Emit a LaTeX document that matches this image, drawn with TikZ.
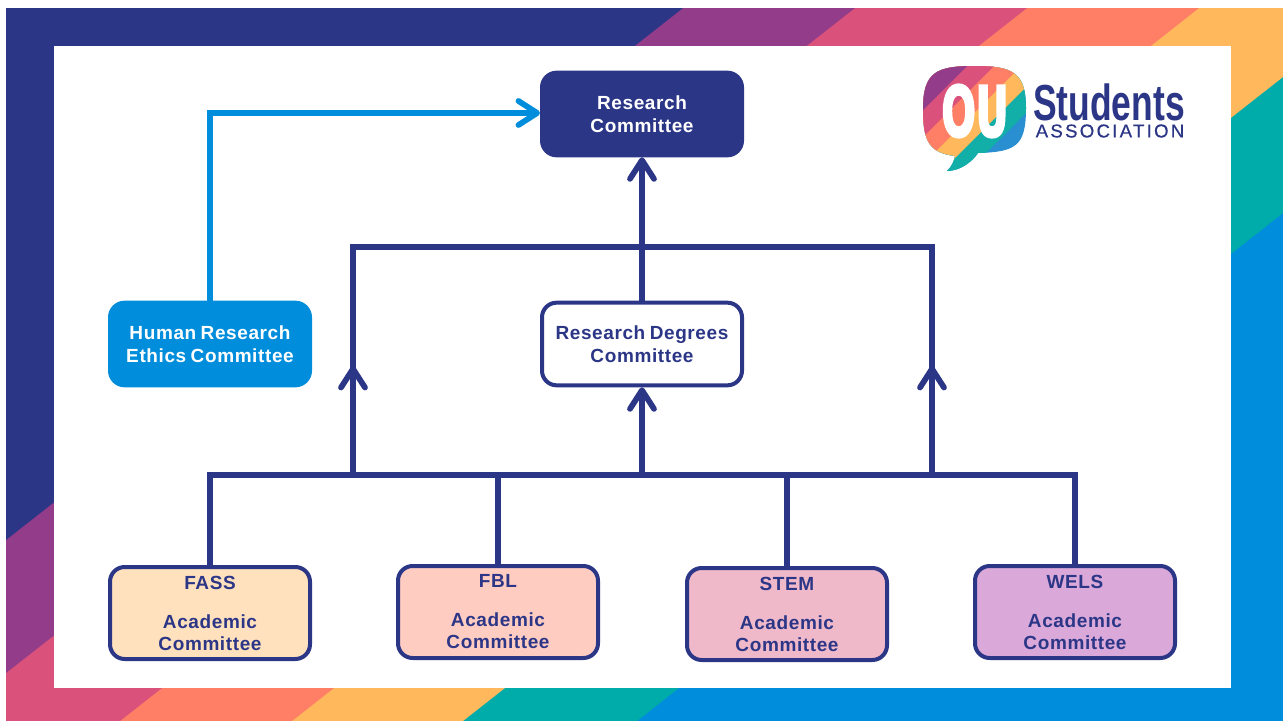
\documentclass[tikz,border=0pt]{standalone}
\usepackage{fontspec}
\setmainfont[LetterSpace=3.2,WordSpace=0.75]{Liberation Sans}
\newfontfamily\logofont[FakeBold=4]{DejaVu Sans}
\newfontfamily\logoname{Liberation Sans}
\newfontfamily\logowide[LetterSpace=12,FakeBold=0.6]{Liberation Sans}
\usetikzlibrary{arrows.meta}
\definecolor{navy}{HTML}{2C3687}
\definecolor{plum}{HTML}{933D8A}
\definecolor{rose}{HTML}{DA527B}
\definecolor{coral}{HTML}{FF7F66}
\definecolor{amber}{HTML}{FFB85C}
\definecolor{teal}{HTML}{00ACA9}
\definecolor{sky}{HTML}{008DDB}
\definecolor{logoteal}{HTML}{11AFA8}
\definecolor{logosky}{HTML}{2A8FD0}
\definecolor{fassfill}{HTML}{FFE1BD}
\definecolor{fblfill}{HTML}{FFCCC2}
\definecolor{stemfill}{HTML}{F0B9CA}
\definecolor{welsfill}{HTML}{DAA9D9}
\tikzset{
  boardbox/.style={draw=navy, line width=3pt, rounded corners=11pt, minimum width=150pt, minimum height=62pt, align=center, inner sep=0pt, text=navy, font=\fontsize{14.25}{17.25}\selectfont\bfseries},
  filledbox/.style={boardbox, draw=#1, fill=#1, text=white},
  facultybox/.style={boardbox, fill=#1, minimum height=69pt, font=\fontsize{14.25}{16.5}\selectfont\bfseries},
  link/.style={draw=navy, line width=4.3pt, line join=miter},
  ethicslink/.style={draw=sky, line width=4.3pt, line join=miter},
  barb/.style={-{Straight Barb[length=14pt,width=18pt,round]}}
}
\begin{document}
\begin{tikzpicture}[x=0.75pt,y=-0.75pt]
\useasboundingbox (0,0) rectangle (1283,721);
\fill[sky] (6,8) rectangle (1283,721);
\fill[teal] (6,8)--(1283,8)--(1283,213)--(637,721)--(6,721)--cycle;
\fill[amber] (6,8)--(1283,8)--(1283,77)--(463,721)--(6,721)--cycle;
\fill[coral] (6,8)--(1199,8)--(292,721)--(6,721)--cycle;
\fill[rose] (6,8)--(1027,8)--(120,721)--(6,721)--cycle;
\fill[plum] (6,8)--(855,8)--(6,673)--cycle;
\fill[navy] (6,8)--(683,8)--(6,540)--cycle;
\fill[white] (54,46) rectangle (1231,688);
\begin{scope}
\clip (975,66) .. controls (1012,66) and (1026,72) .. (1026,108) .. controls (1026,146) and (1016,152) .. (978,153) .. controls (972,162) and (960,171) .. (947,171) .. controls (952,166) and (954,161) .. (955,156) .. controls (930,153) and (923,142) .. (923,110) .. controls (923,72) and (936,66) .. (975,66) -- cycle;
\fill[logosky] (900,50) rectangle (1040,180);
\fill[logoteal] (900,50)--(1089,50)--(900,239)--cycle;
\fill[amber] (900,50)--(1063,50)--(900,213)--cycle;
\fill[coral] (900,50)--(1037,50)--(900,187)--cycle;
\fill[rose] (900,50)--(1010,50)--(900,160)--cycle;
\fill[plum] (900,50)--(983,50)--(900,133)--cycle;
\end{scope}
\node[text=white, inner sep=0pt, font=\logofont\fontsize{52}{52}\selectfont\bfseries] (logoou) at (975,111) {\scalebox{.58}[1]{OU}};
\node[text=navy, inner sep=0pt, font=\logoname\fontsize{38}{38}\selectfont\bfseries] (logotext) at (1109,102) {\scalebox{.7}[1]{Students}};
\node[text=navy, inner sep=0pt, font=\logowide\fontsize{14}{14}\selectfont] (logosub) at (1110,131) {ASSOCIATION};
\node[filledbox=navy] (rc) at (642,114) {Research\\Committee};
\node[filledbox=sky] (hrec) at (210,344) {Human Research\\Ethics Committee};
\node[boardbox] (rdc) at (642,344) {Research Degrees\\Committee};
\node[facultybox=fassfill] (fass) at (210,613) {FASS\\[12.75pt]Academic\\Committee};
\node[facultybox=fblfill] (fbl) at (498,612) {FBL\\[12.75pt]Academic\\Committee};
\node[facultybox=stemfill] (stem) at (787,614) {STEM\\[12.75pt]Academic\\Committee};
\node[facultybox=welsfill] (wels) at (1075,612) {WELS\\[12.75pt]Academic\\Committee};
\coordinate (busfass) at (210,475);
\coordinate (busfbl) at (498,475);
\coordinate (busrdc) at (642,475);
\coordinate (busstem) at (787,475);
\coordinate (buswels) at (1075,475);
\coordinate (busleft) at (353,475);
\coordinate (busright) at (932,475);
\coordinate (topleft) at (353,247);
\coordinate (topright) at (932,247);
\coordinate (tipleft) at (353,366);
\coordinate (tipright) at (932,366);
\coordinate (hreccorner) at (210,113);
\coordinate (rcentry) at (540,113);
\draw[ethicslink,barb] (hrec.north)--(hreccorner)--(rcentry);
\draw[link,barb] (rdc.north)--(rc.south);
\draw[link] (busleft)--(topleft)--(topright)--(busright);
\draw[link,barb] (busleft)--(tipleft);
\draw[link,barb] (busright)--(tipright);
\draw[link,barb] (busrdc)--(rdc.south);
\draw[link] (fass.north)--(busfass)--(buswels)--(wels.north);
\draw[link] (fbl.north)--(busfbl);
\draw[link] (stem.north)--(busstem);
\end{tikzpicture}
\end{document}
